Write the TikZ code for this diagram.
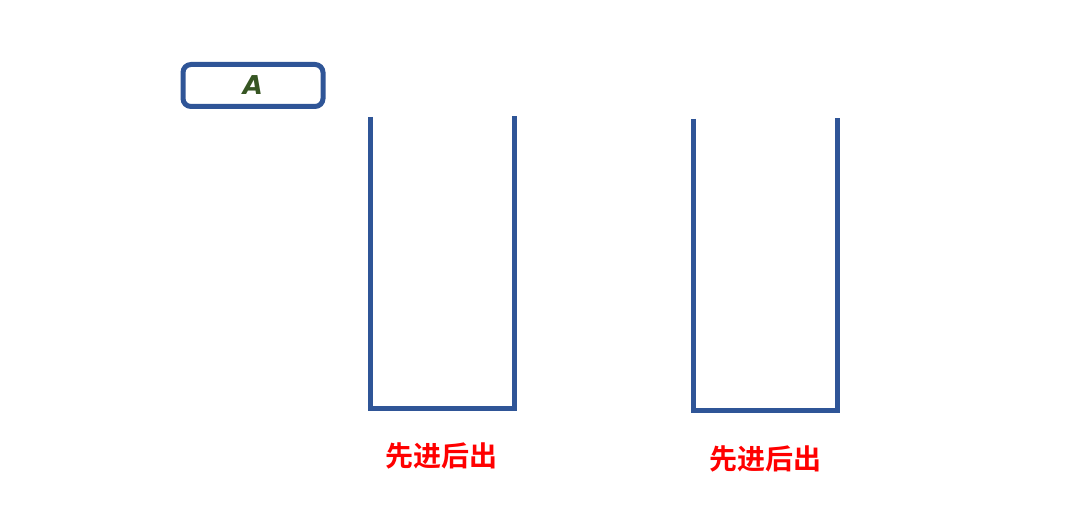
\documentclass[tikz,border=0pt]{standalone}
\usepackage{fontspec}
\newfontfamily\cjk{Noto Sans CJK SC}[BoldFont={* Bold}]
\newfontfamily\lbl{DejaVu Sans}
\definecolor{stackblue}{HTML}{2F5597}
\definecolor{labelgreen}{HTML}{375623}
\tikzset{
  stackwall/.style={draw=stackblue, line width=5pt, line join=miter},
  itembox/.style={draw=stackblue, line width=5pt, rounded corners=8pt,
    minimum width=140pt, minimum height=42pt, inner sep=0pt},
  note/.style={text=red, font=\cjk\bfseries\fontsize{28}{32}\selectfont}
}
\begin{document}
\begin{tikzpicture}[x=1pt, y=-1pt]
  \useasboundingbox (0,0) rectangle (1070,505);
  \node[itembox] (item) at (253,85.5)
    {\textcolor{labelgreen}{\lbl\bfseries\itshape\fontsize{26}{30}\selectfont A}};
  % left stack
  \coordinate (s1tl) at (370,117);
  \coordinate (s1tr) at (514,116);
  \draw[stackwall] (s1tl) -- (370,408.5) -- (514,408.5) -- (s1tr);
  \node[note] (n1) at (441,456) {先进后出};
  % right stack
  \coordinate (s2tl) at (693,119);
  \coordinate (s2tr) at (837,118);
  \draw[stackwall] (s2tl) -- (693,410.5) -- (837,410.5) -- (s2tr);
  \node[note] (n2) at (765,459) {先进后出};
\end{tikzpicture}
\end{document}
